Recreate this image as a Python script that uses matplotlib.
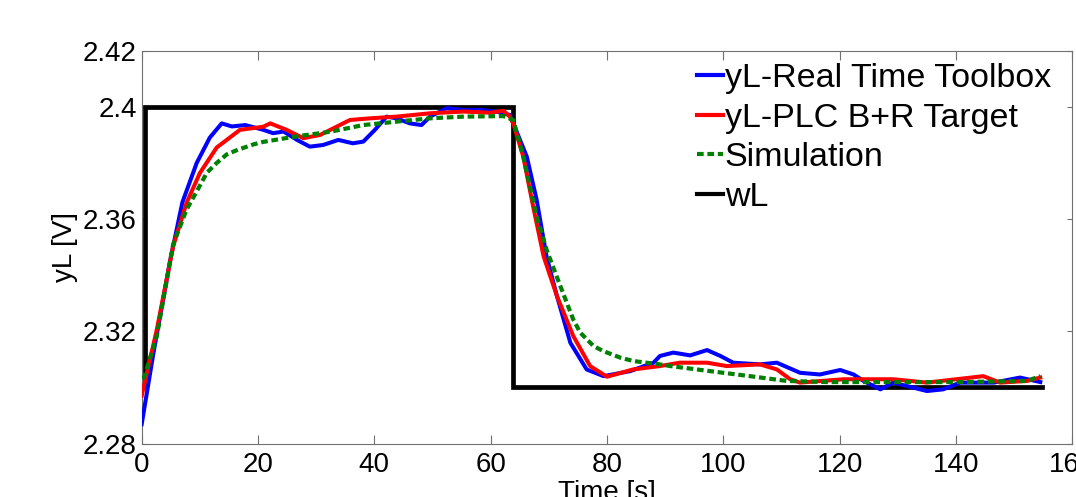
import matplotlib
matplotlib.use("Agg")
import matplotlib.pyplot as plt

plt.rcParams['font.family'] = ['Liberation Sans', 'DejaVu Sans']

# Data
rtt_t = [0.0, 2.0, 4.87, 7.0, 9.46, 11.7, 13.76, 15.5, 17.8, 20.9, 22.6, 24.4, 26.7, 28.9, 31.2,
         33.8, 36.3, 38.1, 40.1, 42.1, 43.8, 46.1, 48.1, 49.6, 52.4, 55.3, 58.2, 61.0, 63.3,
         63.9, 66.2, 67.9, 69.6, 71.4, 73.7, 76.5, 79.4, 84.0, 88.0, 89.1, 91.4, 94.3, 97.2,
         99.5, 101.7, 106.3, 109.2, 113.2, 116.6, 120.1, 122.4, 124.1, 127.0, 129.2, 135.0,
         137.8, 140.7, 146.5, 151.0, 154.5]
rtt_v = [2.2869, 2.3120, 2.3450, 2.3660, 2.3800, 2.3890, 2.3941, 2.3930, 2.3935, 2.3918, 2.3906,
         2.3912, 2.3882, 2.3858, 2.3864, 2.3882, 2.3870, 2.3876, 2.3918, 2.3965, 2.3959, 2.3941,
         2.3935, 2.3965, 2.3995, 2.3989, 2.3989, 2.3983, 2.3971, 2.3940, 2.3823, 2.3669, 2.3467,
         2.3325, 2.3159, 2.3064, 2.3040, 2.3058, 2.3088, 2.3112, 2.3124, 2.3114, 2.3133, 2.3112,
         2.3088, 2.3082, 2.3088, 2.3052, 2.3046, 2.3062, 2.3046, 2.3023, 2.2993, 2.3017, 2.2987,
         2.2993, 2.3017, 2.3017, 2.3035, 2.3019]

plc_t = [0.0, 2.6, 5.4, 7.7, 10.0, 12.9, 16.9, 20.9, 22.1, 24.9, 27.8, 30.7, 33.5, 35.8, 39.3,
         43.8, 49.6, 55.3, 59.9, 62.2, 63.3, 63.9, 65.6, 67.3, 69.1, 71.4, 74.2, 77.1, 80.0,
         84.5, 89.1, 92.5, 97.2, 100.6, 106.3, 109.2, 111.5, 113.2, 120.7, 129.3, 135.0, 144.7,
         147.6, 152.2, 154.5]
plc_v = [2.2970, 2.3206, 2.3503, 2.3657, 2.3764, 2.3855, 2.3918, 2.3929, 2.3941, 2.3918, 2.3888,
         2.3900, 2.3929, 2.3953, 2.3959, 2.3965, 2.3977, 2.3983, 2.3979, 2.3986, 2.3965, 2.3940,
         2.3823, 2.3645, 2.3467, 2.3325, 2.3183, 2.3076, 2.3038, 2.3064, 2.3076, 2.3088, 2.3088,
         2.3076, 2.3082, 2.3064, 2.3029, 2.3017, 2.3029, 2.3029, 2.3017, 2.3040, 2.3017, 2.3023,
         2.3035]

sim_t = [0.3, 2.6, 5.4, 7.7, 9.5, 11.2, 12.9, 14.6, 16.3, 19.2, 20.9, 26.4, 32.4, 38.1, 43.8,
         49.6, 55.3, 62.2, 63.9, 65.6, 67.9, 69.6, 72.0, 74.2, 75.4, 77.7, 79.4, 82.3, 84.5,
         89.1, 90.9, 97.7, 104.6, 110.9, 117.8, 129.3, 140.7, 152.2, 154.5]
sim_v = [2.3029, 2.3183, 2.3509, 2.3633, 2.3700, 2.3765, 2.3800, 2.3830, 2.3845, 2.3866, 2.3875,
         2.3894, 2.3911, 2.3935, 2.3947, 2.3959, 2.3965, 2.3967, 2.3953, 2.3823, 2.3609, 2.3491,
         2.3360, 2.3242, 2.3195, 2.3147, 2.3129, 2.3106, 2.3094, 2.3082, 2.3076, 2.3058, 2.3040,
         2.3023, 2.3019, 2.3019, 2.3019, 2.3023, 2.3040]

wl_t = [0.5, 0.5, 63.8, 63.8, 154.8]
wl_v = [2.30, 2.40, 2.40, 2.30, 2.30]

xticks = [0, 20, 40, 60, 80, 100, 120, 140, 160]
yticks = [2.28, 2.32, 2.36, 2.40, 2.42]
ytick_labels = ['2.28', '2.32', '2.36', '2.4', '2.42']

W, H = 1076, 497
fig = plt.figure(figsize=(W / 100, H / 100), dpi=100)
ax = fig.add_axes([141.7 / W, (H - 443.5) / H, (1072.3 - 141.7) / W, (443.5 - 50.7) / H])

l1, = ax.plot(rtt_t, rtt_v, color='#0000ff', lw=2.9, label='yL-Real Time Toolbox', zorder=3)
l2, = ax.plot(plc_t, plc_v, color='#ff0000', lw=2.9, label='yL-PLC B+R Target', zorder=4)
l3, = ax.plot(sim_t, sim_v, color='#008000', lw=3.0, dashes=(1.6, 0.9),
              label='Simulation', zorder=5)
l4, = ax.plot(wl_t, wl_v, color='black', lw=3.4, label='wL', zorder=2,
              solid_joinstyle='miter')

ax.set_xlim(0, 160)
ax.set_ylim(2.28, 2.42)
ax.set_xticks(xticks)
ax.set_xticklabels([str(x) for x in xticks])
ax.set_yticks(yticks)
ax.set_yticklabels(ytick_labels)

for s in ax.spines.values():
    s.set_color('#707070')
    s.set_linewidth(0.8)

ax.tick_params(axis='both', which='major', direction='in', top=True, right=True,
               labelsize=20, colors='#707070', labelcolor='black', width=0.8)
ax.tick_params(axis='x', length=6.5, pad=6.0)
ax.tick_params(axis='y', length=3.5, pad=3.6)

ax.set_ylabel('yL [V]', fontsize=20)
ax.yaxis.set_label_coords(-0.068, 0.5)
ax.set_xlabel('Time [s]', fontsize=20, va='top')
ax.xaxis.set_label_coords(0.5, -0.093)

leg = ax.legend(handles=[l1, l2, l3, l4], loc='upper left',
                bbox_to_anchor=(697 / W, 1 - 63 / H), bbox_transform=fig.transFigure,
                frameon=False, fontsize=24.5, handlelength=0.76, handletextpad=0.06,
                labelspacing=0.25, borderpad=0, borderaxespad=0)
for h in leg.get_lines():
    h.set_linewidth(3.0)

fig.savefig('out.png', dpi=100)
